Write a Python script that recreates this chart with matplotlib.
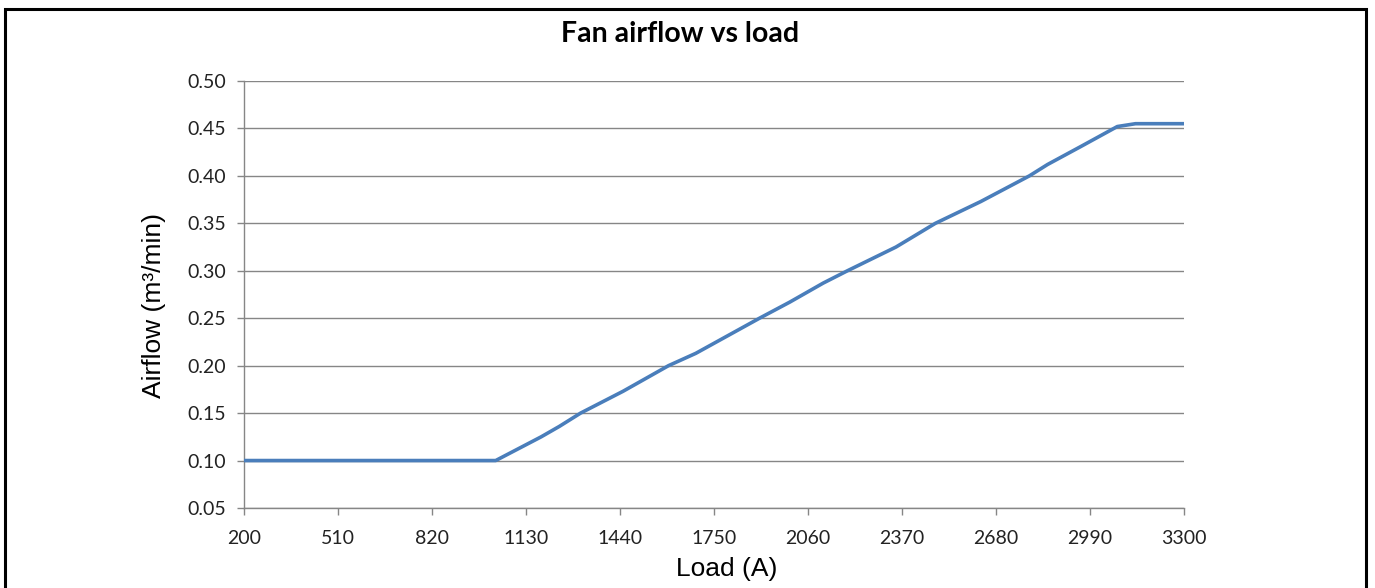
import numpy as np
import matplotlib
matplotlib.use('Agg')
import matplotlib.pyplot as plt
from matplotlib.patches import Rectangle

# Valores
load = [200, 1030, 1180, 1240, 1310, 1450, 1600, 1690, 1900, 2000, 2110,
        2190, 2350, 2480, 2630, 2790, 2850, 2960, 3080, 3140, 3300]
airflow = [0.100, 0.100, 0.125, 0.136, 0.150, 0.173, 0.200, 0.213, 0.250,
           0.267, 0.287, 0.300, 0.325, 0.350, 0.373, 0.400, 0.412, 0.431,
           0.452, 0.455, 0.455]

x_ticks = list(range(200, 3301, 310))
y_ticks = [0.05, 0.10, 0.15, 0.20, 0.25, 0.30, 0.35, 0.40, 0.45, 0.50]

W, H = 1375, 588
fig = plt.figure(figsize=(W / 100, H / 100), dpi=100)
ax = fig.add_axes([244 / W, 1 - 508 / H, (1184 - 244) / W, (508 - 81) / H])

grey = '#868686'
ax.plot(load, airflow, color='#4A7EBB', lw=2.6, solid_joinstyle='round', zorder=3)

ax.set_xlim(200, 3300)
ax.set_ylim(0.05, 0.50)
ax.set_xticks(x_ticks)
ax.set_yticks(y_ticks)
ax.set_yticklabels(['%.2f' % v for v in y_ticks])
ax.grid(axis='y', color=grey, lw=1)
ax.set_axisbelow(True)

for s in ['top', 'right']:
    ax.spines[s].set_visible(False)
for s in ['left', 'bottom']:
    ax.spines[s].set_color(grey)
    ax.spines[s].set_linewidth(1)
ax.tick_params(colors=grey, length=5, width=1, labelcolor='#222222',
               labelsize=14)
ax.tick_params(axis='y', pad=8)
ax.tick_params(axis='x', pad=11)
for lab in ax.get_xticklabels() + ax.get_yticklabels():
    lab.set_family('Lato')

ax.set_xlabel('Load (A)', family='Liberation Sans', fontsize=19)
ax.xaxis.set_label_coords(0.513, -0.115)
ax.set_ylabel('Airflow (m³/min)', family='Liberation Sans', fontsize=19)
ax.yaxis.set_label_coords(-0.083, 0.475)
fig.text(680 / W, 1 - 34 / H, 'Fan airflow vs load', family='Lato',
         fontweight='bold', fontsize=20.5, ha='center', va='center')

# marco negro alrededor
fig.patches.append(Rectangle((5 / W, -0.1), (1366 - 5) / W, 1.1 - 9 / H,
                             transform=fig.transFigure, fill=False,
                             edgecolor='black', lw=2.2))

fig.savefig('out.png', dpi=100)
